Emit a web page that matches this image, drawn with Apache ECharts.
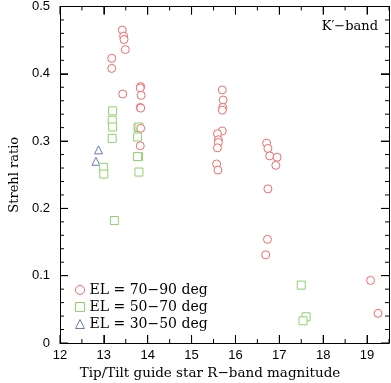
<!DOCTYPE html>
<html><head><meta charset="utf-8">
<script src="https://cdn.jsdelivr.net/npm/echarts@6/dist/echarts.min.js"></script>
<style>html,body{margin:0;padding:0;background:#fff}#c{width:391px;height:383px}</style>
</head><body><div id="c"></div>
<script>
const xTicks = [12, 13, 14, 15, 16, 17, 18, 19];
const xMinorTicks = [12.5, 13.5, 14.5, 15.5, 16.5, 17.5, 18.5, 19.5];
const yTicks = [0, 0.1, 0.2, 0.3, 0.4, 0.5];
const yMinorTicks = [0.02, 0.04, 0.06, 0.08, 0.12, 0.14, 0.16, 0.18, 0.22, 0.24, 0.26, 0.28,
                     0.32, 0.34, 0.36, 0.38, 0.42, 0.44, 0.46, 0.48];
const seriesNames = ['EL = 70\u221290 deg', 'EL = 50\u221270 deg', 'EL = 30\u221250 deg'];
const el7090 = [
  [13.42,0.465],[13.45,0.456],[13.46,0.451],[13.49,0.436],[13.18,0.423],[13.18,0.408],
  [13.43,0.370],[13.84,0.381],[13.83,0.379],[13.85,0.368],[13.83,0.350],[13.84,0.349],
  [13.84,0.319],[13.83,0.293],
  [15.70,0.376],[15.72,0.361],[15.71,0.350],[15.70,0.346],[15.70,0.315],[15.59,0.311],
  [15.61,0.302],[15.61,0.298],[15.59,0.290],[15.57,0.266],[15.60,0.257],
  [16.71,0.297],[16.74,0.289],[16.78,0.278],[16.95,0.276],[16.92,0.264],
  [16.74,0.229],[16.73,0.154],[16.69,0.131],[19.08,0.093],[19.25,0.044]
];
const el5070 = [
  [13.20,0.345],[13.19,0.331],[13.20,0.321],[13.19,0.304],[13.78,0.320],[13.80,0.321],
  [13.77,0.306],[13.79,0.277],[13.77,0.277],[13.80,0.254],[12.99,0.261],[13.00,0.251],
  [13.24,0.182],[17.50,0.086],[17.61,0.039],[17.54,0.033]
];
const el3050 = [[12.88,0.287],[12.82,0.270]];
const bandLabel = 'K\u2032\u2212band';
const xName = 'Tip/Tilt guide star R\u2212band magnitude';
const yName = 'Strehl ratio';

const X_MIN = 12, X_MAX = 19.5, Y_MIN = 0, Y_MAX = 0.5;
const serif = 'DejaVu Serif';
const sans = 'Liberation Sans';
const col = ['#f06a6a', '#8fd26e', '#6a78c4'];

function axisDef(kind, pos, labels){
  const isX = kind === 'x';
  return {type:'value', position:pos,
    min: isX ? X_MIN : Y_MIN, max: isX ? X_MAX : Y_MAX,
    interval: isX ? 1 : 0.1,
    axisLine:{show:true, onZero:false, lineStyle:{color:'#000', width:1}},
    axisTick:{show:true, inside:true, length:8, lineStyle:{color:'#000', width:1}},
    splitLine:{show:false},
    axisLabel:{show:labels, color:'#000', fontFamily:sans, fontSize:13, margin: isX ? 6 : 10,
      showMaxLabel: !isX}
  };
}

// tick marks: [value, kind] kind 0 = x major, 1 = x minor, 2 = y major, 3 = y minor
const tickData = [].concat(
  xTicks.map(v=>[v,0]), xMinorTicks.map(v=>[v,1]),
  yTicks.map(v=>[v,2]), yMinorTicks.map(v=>[v,3]));

function renderTick(params, api){
  const v = api.value(0), k = api.value(1);
  const len = (k === 0 || k === 2) ? 8 : 4;
  const st = {stroke:'#000', lineWidth:1, fill:null};
  let a, b, lines;
  if (k < 2) {
    a = api.coord([v, Y_MIN]); b = api.coord([v, Y_MAX]);
    lines = [[a[0], a[1], a[0], a[1]-len], [b[0], b[1], b[0], b[1]+len]];
  } else {
    a = api.coord([X_MIN, v]); b = api.coord([X_MAX, v]);
    lines = [[a[0], a[1], a[0]+len, a[1]], [b[0], b[1], b[0]-len, b[1]]];
  }
  return {type:'group', children: lines.map(l=>({type:'line',
    shape:{x1:l[0], y1:l[1], x2:l[2], y2:l[3]}, style:st}))};
}

const chart = echarts.init(document.getElementById('c'), null, {renderer:'canvas'});
const mk = (name, data, sym, c, size)=>({
  name, type:'scatter', data, symbol:sym, symbolSize:size,
  itemStyle:{color:'#fff', borderColor:c, borderWidth:1, opacity:1},
  xAxisIndex:0, yAxisIndex:0
});
const yMain = axisDef('y','left',true);
yMain.name = yName; yMain.nameLocation = 'middle'; yMain.nameGap = 38;
yMain.nameTextStyle = {fontFamily:serif, fontSize:13, color:'#000'};
chart.setOption({
  animation:false,
  grid:{left:52, right:2, top:6, bottom:40},
  xAxis:[axisDef('x','bottom',true), axisDef('x','top',false)],
  yAxis:[yMain, axisDef('y','right',false)],
  legend:{orient:'vertical', left:70, top:278, itemWidth:9, itemHeight:9, itemGap:3,
    textStyle:{fontFamily:serif, fontSize:14, color:'#000'},
    data:seriesNames.map((n,i)=>({name:n, icon:['circle','rect','triangle'][i],
      itemStyle:{color:'#fff', borderColor:col[i], borderWidth:1}}))},
  graphic:[
    {type:'text', style:{x:378, y:27, text:bandLabel, font:'13px "DejaVu Serif"', fill:'#000', textAlign:'right', textVerticalAlign:'middle'}},
    {type:'text', style:{x:210, y:373, text:xName, font:'13.5px "DejaVu Serif"', fill:'#000', textAlign:'center', textVerticalAlign:'middle'}}
  ],
  series:[
    {type:'custom', name:'ticks', data:tickData, renderItem:renderTick, silent:true, clip:false,
     xAxisIndex:0, yAxisIndex:0, z:5},
    mk(seriesNames[2], el3050, 'triangle', col[2], 8),
    mk(seriesNames[1], el5070, 'rect', col[1], 8),
    mk(seriesNames[0], el7090, 'circle', col[0], 8)
  ]
});
</script></body></html>
